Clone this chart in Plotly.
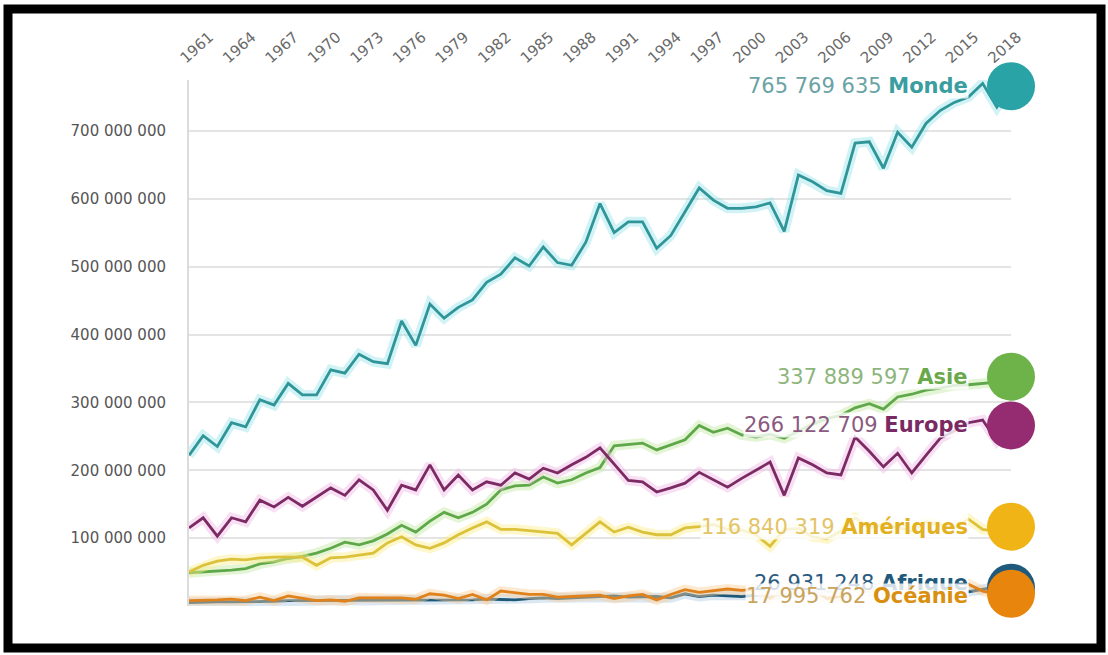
import plotly.graph_objects as go

years = list(range(1961, 2020))

monde = [222, 251, 235, 270, 264, 304, 296, 328, 311, 311,
         348, 343, 371, 360, 357, 420, 384, 445, 424, 440,
         451, 477, 489, 513, 501, 529, 506, 502, 536, 593,
         550, 566, 566, 527, 546, 582, 616, 598, 586, 586,
         588, 594, 552, 635, 625, 612, 608, 682, 684, 645,
         698, 676, 711, 730, 742, 750, 770, 735, 765.77]

asie = [49, 50, 52, 53, 55, 62, 65, 70, 73, 78,
        85, 94, 90, 96, 106, 119, 109, 125, 138, 130,
        138, 150, 171, 177, 178, 190, 181, 186, 196, 204,
        236, 238, 240, 230, 237, 245, 266, 256, 262, 252,
        249, 253, 247, 258, 268, 276, 281, 292, 298, 290,
        308, 312, 318, 321, 325, 326, 328, 330, 337.89]

europe = [115, 130, 103, 130, 124, 156, 146, 160, 147, 160,
          174, 163, 186, 171, 141, 178, 171, 208, 171, 193,
          171, 183, 178, 196, 187, 203, 196, 208, 219, 233,
          209, 185, 183, 168, 174, 181, 197, 186, 175, 188,
          200, 212, 163, 218, 208, 196, 193, 249, 228, 205,
          225, 196, 222, 247, 258, 270, 274, 243, 266.12]

ameriques = [50, 60, 66, 69, 68, 71, 72, 72, 72, 60,
             71, 72, 75, 78, 93, 102, 90, 85, 93, 105,
             115, 124, 113, 113, 111, 109, 107, 90, 107, 124,
             109, 116, 109, 105, 105, 115, 117, 120, 113, 112,
             105, 88, 113, 114, 102, 99, 110, 130, 115, 120,
             116, 110, 124, 120, 115, 128, 113, 110, 116.84]

afrique = [5, 6, 6, 6, 6, 6, 7, 8, 8, 8,
           8, 9, 8, 8, 8, 9, 8, 9, 9, 9,
           9, 10, 9, 9, 11, 12, 11, 12, 13, 13,
           15, 13, 14, 14, 12, 18, 14, 16, 15, 14,
           16, 17, 17, 20, 21, 21, 19, 22, 23, 22,
           23, 24, 26, 24, 27, 21, 25, 28, 26.93]

oceanie = [8, 8, 9, 10, 8, 13, 8, 15, 11, 8,
           9, 7, 12, 12, 12, 12, 10, 18, 16, 11,
           17, 9, 22, 19, 17, 17, 13, 14, 15, 16,
           11, 15, 17, 9, 17, 24, 20, 22, 25, 23,
           25, 11, 27, 22, 25, 11, 14, 22, 22, 28,
           30, 23, 26, 24, 23, 32, 22, 18, 18.0]

labels_num = ["765 769 635", "337 889 597", "266 122 709",
              "116 840 319", "26 931 248", "17 995 762"]
labels_name = ["Monde", "Asie", "Europe", "Amériques", "Afrique", "Océanie"]

ytick_vals = [100, 200, 300, 400, 500, 600, 700]
ytick_text = ["100 000 000", "200 000 000", "300 000 000", "400 000 000",
              "500 000 000", "600 000 000", "700 000 000"]
xtick_vals = list(range(1961, 2019, 3))

series = [monde, asie, europe, ameriques, afrique, oceanie]
line_col = ["#2f9598", "#5fa84a", "#7c2a63", "#dcc23a", "#1d5878", "#e0821c"]
glow_col = ["rgba(140,225,232,0.4)", "rgba(195,232,165,0.45)", "rgba(240,185,228,0.45)",
            "rgba(250,238,140,0.45)", "rgba(175,205,228,0.45)", "rgba(250,205,150,0.45)"]
dot_col = ["#2aa3a6", "#6db34a", "#952b70", "#f0b416", "#1f5a7c", "#e8850c"]
num_col = ["#6aa3a4", "#8db57c", "#8a5a80", "#e3c466", "#2a5a80", "#c9a45c"]
name_col = ["#3a9da0", "#6aa94a", "#7a2a62", "#e2b020", "#1f5a7c", "#d98f10"]

fig = go.Figure()
for s, lc, gc in zip(series, line_col, glow_col):
    fig.add_trace(go.Scatter(x=years, y=s, mode="lines",
                             line=dict(color=gc, width=10, shape="linear"),
                             hoverinfo="skip"))
    fig.add_trace(go.Scatter(x=years, y=s, mode="lines",
                             line=dict(color=lc, width=2.8)))

for s, dc in zip(series, dot_col):
    fig.add_trace(go.Scatter(x=[years[-1]], y=[s[-1]], mode="markers",
                             marker=dict(size=48, color=dc), cliponaxis=False))

annotations = []
for i, (s, n, nm) in enumerate(zip(series, labels_num, labels_name)):
    yshift = 5 if nm == "Afrique" else (-2 if nm == "Océanie" else 0)
    annotations.append(dict(
        x=years[-1], y=s[-1], xref="x", yref="y", xanchor="right", yanchor="middle",
        xshift=-42, yshift=yshift, showarrow=False,
        text=f'<span style="color:{num_col[i]}">{n}</span> <b><span style="color:{name_col[i]}">{nm}</span></b>',
        font=dict(family="DejaVu Sans", size=21),
        bgcolor="rgba(255,255,255,0.8)", borderpad=0))

L, R, T, B = 189, 1011, 80, 606
def px(x):
    return (x - L) / (R - L)
def py(y):
    return (B - y) / (B - T)

shapes = [dict(type="rect", xref="paper", yref="paper",
               x0=px(8), x1=px(1101), y0=py(648), y1=py(9),
               line=dict(color="black", width=9), layer="above")]

fig.update_layout(
    width=1108, height=655, autosize=False,
    margin=dict(l=L, r=1108 - R, t=T, b=655 - B),
    paper_bgcolor="white", plot_bgcolor="white",
    showlegend=False,
    annotations=annotations, shapes=shapes,
    font=dict(family="DejaVu Sans"),
)
fig.update_xaxes(range=[1961, 2019], side="top", tickvals=xtick_vals,
                 tickangle=-42, showgrid=False, zeroline=False, showline=False,
                 tickfont=dict(family="DejaVu Sans", size=15, color="#6a6a6a"),
                 ticks="", ticklabelstandoff=10, ticklabelshift=-8)
fig.update_yaxes(range=[0, 775], tickvals=ytick_vals, ticktext=ytick_text,
                 showgrid=True, gridcolor="#e4e4e4", gridwidth=1.5,
                 zeroline=False, showline=True, linecolor="#dcdcdc", linewidth=2,
                 tickfont=dict(family="DejaVu Sans", size=15, color="#555555"),
                 ticks="", ticklabelstandoff=18)

fig.write_html("out.html", config={"displayModeBar": False})
